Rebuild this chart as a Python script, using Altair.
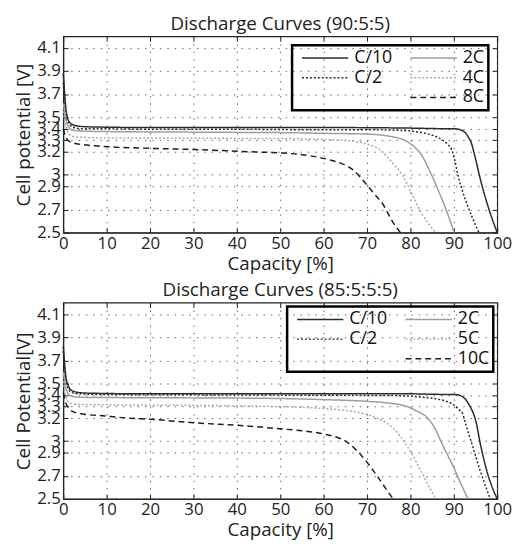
import altair as alt
import pandas as pd

# ---------------- data ----------------
# Panel 1: Discharge Curves (90:5:5)
p1_c10_cap = [0, 0.3, 0.6, 1.0, 1.6, 2.5, 4, 7, 20, 40, 60, 80, 88, 90, 91.5, 92.5, 93.3, 94, 94.8, 96.2, 98.2, 100]
p1_c10_v = [3.88, 3.72, 3.58, 3.49, 3.45, 3.43, 3.42, 3.415, 3.41, 3.41, 3.41, 3.405, 3.40, 3.40, 3.39, 3.37, 3.33, 3.28, 3.17, 2.95, 2.69, 2.50]

p1_c2_cap = [0, 0.3, 0.6, 1.0, 1.6, 2.5, 4, 7, 20, 40, 60, 72, 78, 81, 84, 86, 87.5, 88.7, 89.5, 90.2, 91, 92, 93.2, 94.5, 95.8]
p1_c2_v = [3.80, 3.66, 3.54, 3.47, 3.43, 3.41, 3.40, 3.40, 3.395, 3.395, 3.39, 3.39, 3.385, 3.375, 3.355, 3.33, 3.30, 3.26, 3.22, 3.13, 2.99, 2.86, 2.73, 2.61, 2.50]

p1_2c_cap = [0, 0.3, 0.6, 1.0, 1.6, 2.5, 4, 10, 20, 30, 40, 50, 60, 70, 75.8, 78, 79.6, 81, 82.6, 84.5, 86.5, 88.5, 90.1]
p1_2c_v = [3.62, 3.55, 3.48, 3.43, 3.40, 3.385, 3.38, 3.375, 3.372, 3.37, 3.368, 3.366, 3.36, 3.353, 3.33, 3.31, 3.28, 3.24, 3.17, 3.03, 2.86, 2.67, 2.50]

p1_4c_cap = [0, 0.3, 0.6, 1.0, 1.6, 2.5, 4, 10, 20, 30, 40, 50, 57, 64.5, 70.5, 72.5, 74.3, 76.2, 78.1, 80.4, 82.7, 84.3, 85.8]
p1_4c_v = [3.55, 3.48, 3.42, 3.37, 3.345, 3.33, 3.325, 3.32, 3.32, 3.318, 3.316, 3.315, 3.31, 3.30, 3.26, 3.23, 3.17, 3.09, 3.00, 2.83, 2.66, 2.57, 2.50]

p1_8c_cap = [0, 0.3, 0.7, 1.2, 2, 3, 4.8, 8, 12, 20, 30, 43, 50, 55, 61.4, 64, 66.7, 69.8, 71.8, 73.6, 75.8, 77.7]
p1_8c_v = [3.40, 3.36, 3.32, 3.295, 3.28, 3.27, 3.26, 3.25, 3.24, 3.23, 3.22, 3.20, 3.19, 3.175, 3.13, 3.10, 3.045, 2.92, 2.83, 2.75, 2.60, 2.50]

# Panel 2: Discharge Curves (85:5:5:5)
p2_c10_cap = [0, 0.3, 0.6, 1.0, 1.6, 2.5, 4, 7, 20, 40, 60, 80, 88, 90, 91.5, 92.5, 93.6, 95.1, 96.2, 97.7, 100]
p2_c10_v = [3.82, 3.68, 3.56, 3.50, 3.45, 3.43, 3.42, 3.415, 3.41, 3.41, 3.41, 3.41, 3.405, 3.405, 3.395, 3.37, 3.31, 3.17, 2.96, 2.73, 2.50]

p2_c2_cap = [0, 0.3, 0.6, 1.0, 1.6, 2.5, 4, 7, 40, 76, 83, 88.3, 89.8, 91.3, 92, 92.8, 94.3, 96.2, 98.4]
p2_c2_v = [3.78, 3.64, 3.53, 3.47, 3.43, 3.415, 3.41, 3.405, 3.40, 3.395, 3.38, 3.345, 3.32, 3.27, 3.24, 3.14, 2.96, 2.73, 2.50]

p2_2c_cap = [0, 0.3, 0.6, 1.0, 1.6, 2.5, 4, 10, 30, 48.9, 60, 70, 75, 79.2, 81.5, 83.7, 85.2, 87.5, 90, 92, 93.3]
p2_2c_v = [3.60, 3.53, 3.46, 3.42, 3.395, 3.385, 3.38, 3.378, 3.375, 3.37, 3.36, 3.345, 3.33, 3.30, 3.26, 3.21, 3.14, 2.96, 2.77, 2.60, 2.50]

p2_5c_cap = [0, 0.3, 0.6, 1.0, 1.6, 2.5, 4, 10, 30, 48.9, 64, 71.6, 76.1, 79.2, 82.2, 84.5, 85.9]
p2_5c_v = [3.52, 3.45, 3.39, 3.35, 3.33, 3.32, 3.318, 3.315, 3.31, 3.30, 3.27, 3.21, 3.11, 2.96, 2.76, 2.59, 2.50]

p2_10c_cap = [0, 0.3, 0.7, 1.2, 2, 3, 4.5, 9, 15, 20, 30, 43, 48.9, 55, 60.2, 65.5, 68.6, 72.3, 74.5, 76]
p2_10c_v = [3.42, 3.37, 3.32, 3.29, 3.26, 3.245, 3.235, 3.22, 3.20, 3.19, 3.16, 3.13, 3.11, 3.09, 3.06, 2.99, 2.88, 2.70, 2.58, 2.50]

# axis ticks
x_ticks = [0, 10, 20, 30, 40, 50, 60, 70, 80, 90, 100]
y_ticks = [2.5, 2.7, 2.9, 3, 3.2, 3.3, 3.4, 3.5, 3.7, 3.9, 4.1]

# legend order (column-major, 3 rows x 2 columns; blank slot keeps column 1 short)
p1_order = ["C/10", "C/2", " ", "2C", "4C", "8C"]
p2_order = ["C/10", "C/2", " ", "2C", "5C", "10C"]
colors = ["#2b2b2b", "#2b2b2b", "transparent", "#9c9c9c", "#a8a8a8", "#1e1e1e"]
dashes = [[1, 0], [2, 2], [1, 0], [1, 0], [2, 2], [6, 4]]

FONT = "Open Sans"


def build_df(series):
    rows = []
    for name, caps, volts in series:
        for i, (c, v) in enumerate(zip(caps, volts)):
            rows.append({"series": name, "cap": c, "volt": v, "idx": i})
    return pd.DataFrame(rows)


df1 = build_df([
    ("C/10", p1_c10_cap, p1_c10_v),
    ("C/2", p1_c2_cap, p1_c2_v),
    ("2C", p1_2c_cap, p1_2c_v),
    ("4C", p1_4c_cap, p1_4c_v),
    ("8C", p1_8c_cap, p1_8c_v),
])
df2 = build_df([
    ("C/10", p2_c10_cap, p2_c10_v),
    ("C/2", p2_c2_cap, p2_c2_v),
    ("2C", p2_2c_cap, p2_2c_v),
    ("5C", p2_5c_cap, p2_5c_v),
    ("10C", p2_10c_cap, p2_10c_v),
])

W, H = 440, 199
xscale = alt.Scale(domain=[0, 100], nice=False)
yscale = alt.Scale(domain=[2.5, 4.2], nice=False)


def panel(df, order, title, ytitle, legend_offset):
    leg = alt.Legend(
        title=None, orient="top-right", offset=legend_offset, columns=2,
        symbolType="M-0.5,0H7.5", symbolSize=138, symbolStrokeWidth=1.5,
        labelFont=FONT, labelFontSize=18, labelColor="#111", labelOffset=41,
        rowPadding=2, columnPadding=12, padding=4,
        strokeColor="#000",
    )
    lines = alt.Chart(df).mark_line(strokeWidth=1.5, interpolate="monotone").encode(
        x=alt.X("cap:Q", scale=xscale, axis=alt.Axis(
            values=x_ticks, title="Capacity [%]", tickSize=0, labelPadding=3,
            labelFlush=False,
            grid=True, gridDash=[1.5, 6], gridColor="#666", gridWidth=1)),
        y=alt.Y("volt:Q", scale=yscale, axis=alt.Axis(
            values=y_ticks, title=ytitle, format="~g", tickSize=0, labelPadding=3,
            labelFlush=False, labelOverlap=False,
            grid=True, gridDash=[1.5, 6], gridColor="#666", gridWidth=1)),
        color=alt.Color("series:N", scale=alt.Scale(domain=order, range=colors), legend=leg),
        strokeDash=alt.StrokeDash("series:N", scale=alt.Scale(domain=order, range=dashes), legend=leg),
        order="idx:Q",
    )
    # inward tick marks on all four sides of the box
    ticks_a = alt.Chart(df).mark_point(opacity=0).encode(
        x=alt.X("cap:Q", scale=xscale, axis=alt.Axis(
            orient="top", offset=-H, values=x_ticks, labels=False, domain=False,
            grid=False, title=None, tickSize=5, tickColor="#222")),
        y=alt.Y("volt:Q", scale=yscale, axis=alt.Axis(
            orient="right", offset=-W, values=y_ticks, labels=False, domain=False,
            grid=False, title=None, tickSize=5, tickColor="#222")),
    )
    ticks_b = alt.Chart(df).mark_point(opacity=0).encode(
        x=alt.X("cap:Q", scale=xscale, axis=alt.Axis(
            orient="bottom", offset=-H, values=x_ticks, labels=False, domain=False,
            grid=False, title=None, tickSize=5, tickColor="#222")),
        y=alt.Y("volt:Q", scale=yscale, axis=alt.Axis(
            orient="left", offset=-W, values=y_ticks, labels=False, domain=False,
            grid=False, title=None, tickSize=5, tickColor="#222")),
    )
    return alt.layer(lines, ticks_a, ticks_b).resolve_axis(
        x="independent", y="independent"
    ).properties(
        width=W, height=H,
        title=alt.TitleParams(title, font=FONT, fontSize=19, fontWeight="normal",
                              color="#222", anchor="middle", offset=2),
    )


top = panel(df1, p1_order, "Discharge Curves (90:5:5)", "Cell potential [V]", 9)
bottom = panel(df2, p2_order, "Discharge Curves (85:5:5:5)", "Cell Potential[V]", 4)

chart = alt.vconcat(top, bottom, spacing=6).resolve_scale(
    color="independent", strokeDash="independent"
).configure_view(
    stroke="#222", strokeWidth=1.2
).configure_axis(
    labelFont=FONT, labelFontSize=17, labelColor="#222",
    titleFont=FONT, titleFontSize=19, titleFontWeight="normal", titleColor="#222",
    domainColor="#222", titlePadding=3,
).configure_legend(
    strokeWidth=2.5
).properties(
    background="white", padding={"left": 6, "top": 2, "right": 0, "bottom": 0}
)

chart.save("out.html", embed_options={"renderer": "svg", "actions": False})
